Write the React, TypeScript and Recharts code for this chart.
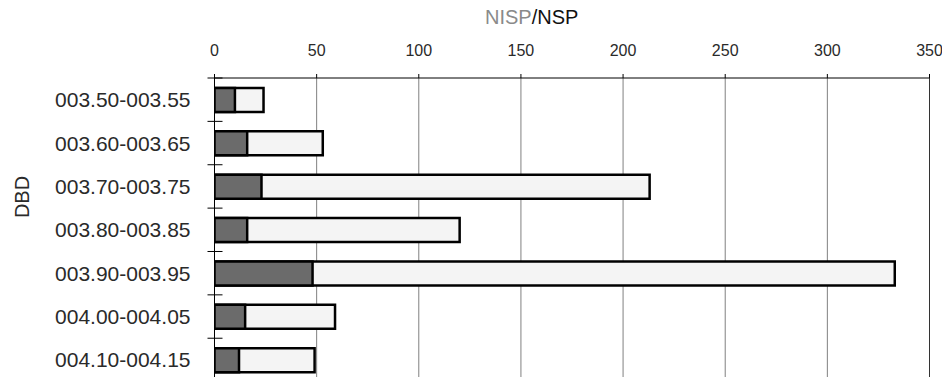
import React from "react";
import { Bar, BarChart, CartesianGrid, ReferenceLine, XAxis, YAxis } from "recharts";

const CATEGORIES = [
  "003.50-003.55",
  "003.60-003.65",
  "003.70-003.75",
  "003.80-003.85",
  "003.90-003.95",
  "004.00-004.05",
  "004.10-004.15",
];
const NSP = [24, 53, 213, 120, 333, 59, 49];
const NISP = [10, 16, 23, 16, 48, 15, 12];
const X_TICKS = [0, 50, 100, 150, 200, 250, 300, 350];

const FONT = '"Liberation Sans", Arial, sans-serif';
const TEXT = "#2a2a2a";
const AXIS_X = 214.5;
const PLOT_TOP = 78;
const CHART_H = 386;
const BOTTOM = 4.4;
const BAND = (CHART_H - PLOT_TOP - BOTTOM) / CATEGORIES.length;

const data = CATEGORIES.map((name, i) => ({ name, nsp: NSP[i], nisp: NISP[i] }));

function CategoryTick(props: any) {
  const { x, y, payload } = props;
  const top = y - BAND / 2;
  return (
    <g>
      <line x1={AXIS_X - 7} x2={AXIS_X + 8} y1={top} y2={top} stroke="#000" strokeWidth={1} />
      <text x={x} y={y} dy={7.5} textAnchor="end" fill={TEXT} fontSize={21} fontFamily={FONT}>
        {payload.value}
      </text>
    </g>
  );
}

export default function App() {
  return (
    <div
      style={{
        position: "absolute",
        left: 0,
        top: 0,
        width: 942,
        height: 377,
        overflow: "hidden",
        background: "#fff",
        fontFamily: FONT,
      }}
    >
      <div
        style={{
          position: "absolute",
          left: 485,
          top: 7,
          fontSize: 20,
          lineHeight: "20px",
          whiteSpace: "nowrap",
        }}
      >
        <span style={{ color: "#8a8a8a" }}>NISP</span>
        <span style={{ color: "#111" }}>/NSP</span>
      </div>
      <div
        style={{
          position: "absolute",
          left: 21.5,
          top: 197,
          fontSize: 20,
          lineHeight: "20px",
          color: TEXT,
          transform: "translate(-50%, -50%) rotate(-90deg)",
          whiteSpace: "nowrap",
        }}
      >
        DBD
      </div>
      <BarChart
        width={942}
        height={CHART_H}
        data={data}
        layout="vertical"
        margin={{ top: 0, right: 12.5, bottom: BOTTOM, left: 0 }}
        barSize={24}
        barGap={-24}
      >
        <CartesianGrid horizontal={false} stroke="#808080" />
        <XAxis
          type="number"
          orientation="top"
          domain={[0, 350]}
          ticks={X_TICKS}
          height={PLOT_TOP}
          tickSize={4}
          tickMargin={18}
          axisLine={{ stroke: "#000" }}
          tickLine={{ stroke: "#000" }}
          tick={{ fill: TEXT, fontSize: 16, fontFamily: FONT }}
          allowDataOverflow
        />
        <YAxis
          type="category"
          dataKey="name"
          width={AXIS_X}
          tickSize={0}
          tickMargin={24}
          tickLine={false}
          axisLine={{ stroke: "#000" }}
          tick={<CategoryTick />}
          interval={0}
        />
        <ReferenceLine x={350} stroke="#333" />
        <Bar dataKey="nsp" fill="#f4f4f4" stroke="#000" strokeWidth={2.5} isAnimationActive={false} />
        <Bar dataKey="nisp" fill="#6b6b6b" stroke="#000" strokeWidth={2.5} isAnimationActive={false} />
      </BarChart>
    </div>
  );
}
